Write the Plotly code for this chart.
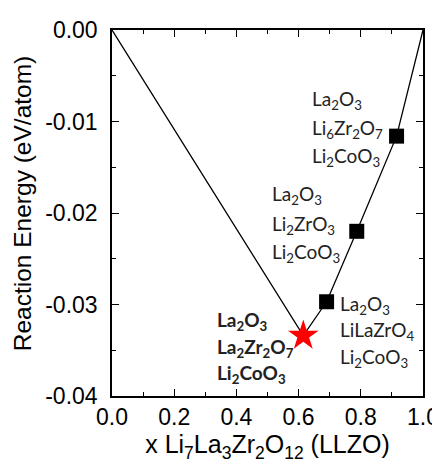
import plotly.graph_objects as go

# Data
hull_x = [0.0, 0.615, 0.690, 0.787, 0.915, 1.0]
hull_y = [0.0, -0.0334, -0.0297, -0.0220, -0.0116, 0.0]
square_x = [0.690, 0.787, 0.915]
square_y = [-0.0297, -0.0220, -0.0116]
star_x = [0.615]
star_y = [-0.0334]

label_groups = [
    ["La<sub>2</sub>O<sub>3</sub>", "Li<sub>6</sub>Zr<sub>2</sub>O<sub>7</sub>", "Li<sub>2</sub>CoO<sub>3</sub>"],
    ["La<sub>2</sub>O<sub>3</sub>", "Li<sub>2</sub>ZrO<sub>3</sub>", "Li<sub>2</sub>CoO<sub>3</sub>"],
    ["La<sub>2</sub>O<sub>3</sub>", "LiLaZrO<sub>4</sub>", "Li<sub>2</sub>CoO<sub>3</sub>"],
    ["<b>La<sub>2</sub>O<sub>3</sub></b>", "<b>La<sub>2</sub>Zr<sub>2</sub>O<sub>7</sub></b>", "<b>Li<sub>2</sub>CoO<sub>3</sub></b>"],
]
x_tick_vals = [0.0, 0.2, 0.4, 0.6, 0.8, 1.0]
y_tick_vals = [0.0, -0.01, -0.02, -0.03, -0.04]
x_title = "x Li<sub>7</sub>La<sub>3</sub>Zr<sub>2</sub>O<sub>12</sub> (LLZO)"
y_title = "Reaction Energy (eV/atom)"

# label placement (left x, line y-centers in data units)
label_pos = [
    (0.637, [-0.0077, -0.0108, -0.0139]),
    (0.508, [-0.0180, -0.0213, -0.0244]),
    (0.727, [-0.0300, -0.0329, -0.0358]),
    (0.331, [-0.0318, -0.0347, -0.0376]),
]

fig = go.Figure()
fig.add_trace(go.Scatter(x=hull_x, y=hull_y, mode="lines",
                         line=dict(color="black", width=1.3), showlegend=False))
fig.add_trace(go.Scatter(x=square_x, y=square_y, mode="markers",
                         marker=dict(symbol="square", size=15, color="black"), showlegend=False))
fig.add_trace(go.Scatter(x=star_x, y=star_y, mode="markers",
                         marker=dict(symbol="star", size=23, color="red", line=dict(width=0)), showlegend=False))

for lines, (lx, ys) in zip(label_groups, label_pos):
    for txt, yy in zip(lines, ys):
        fig.add_annotation(x=lx, y=yy, text=txt, showarrow=False, xanchor="left", yanchor="middle",
                           font=dict(family="Lato, Open Sans, sans-serif", size=19, color="#222"))

# y-axis title (as rotated annotation so it can be centred like the reference)
fig.add_annotation(x=-0.289, y=0.527, xref="paper", yref="paper", text=y_title, textangle=-90,
                   showarrow=False, xanchor="center", yanchor="middle",
                   font=dict(family="Liberation Sans, Arial", size=24.5, color="black"))

axis_common = dict(showline=True, linecolor="black", linewidth=1.5, mirror="ticks",
                   ticks="inside", ticklen=7, tickwidth=1.3, tickcolor="black",
                   showgrid=False, zeroline=False, automargin=False,
                   tickfont=dict(family="Liberation Sans, Arial", size=23, color="black"))

fig.update_xaxes(range=[0, 1.0], tickvals=x_tick_vals, ticktext=[f"{v:.1f}" for v in x_tick_vals],
                 minor=dict(dtick=0.1, tick0=0, ticks="inside", ticklen=4, tickcolor="black", tickwidth=1.2),
                 ticklabelstandoff=0,
                 title=dict(text=x_title,
                            font=dict(family="Liberation Sans, Arial", size=25, color="black"), standoff=4),
                 **axis_common)
fig.update_yaxes(range=[-0.04, 0.0], tickvals=y_tick_vals, ticktext=[f"{v:.2f}" for v in y_tick_vals],
                 minor=dict(dtick=0.005, tick0=0, ticks="inside", ticklen=4, tickcolor="black", tickwidth=1.2),
                 ticklabelstandoff=8,
                 **axis_common)

# page has an 8px body margin, so the figure is 8px smaller and margins shifted
fig.update_layout(width=432, height=456, margin=dict(l=104, r=17, t=22, b=68),
                  plot_bgcolor="white", paper_bgcolor="white")
fig.write_html("out.html")
